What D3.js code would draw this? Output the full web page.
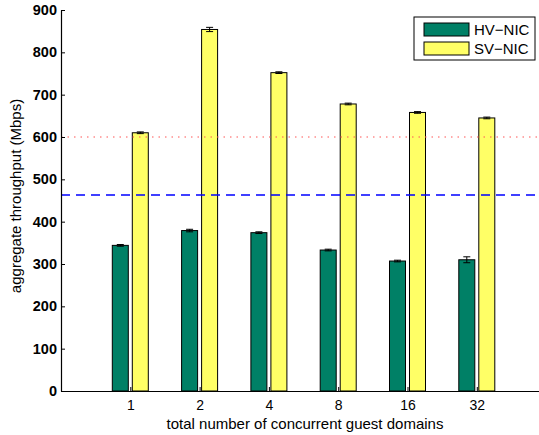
<!DOCTYPE html>
<html>
<head>
<meta charset="utf-8">
<script src="https://cdn.jsdelivr.net/npm/d3@7"></script>
<style>
  html, body { margin: 0; padding: 0; background: #fff; }
  svg { display: block; font-family: "Liberation Sans", Arial, sans-serif; }
</style>
</head>
<body>
<svg id="chart" width="539" height="435"></svg>
<script>
// Guest-domain counts on the x axis
const categories = ["1", "2", "4", "8", "16", "32"];
// Aggregate throughput (Mbps) per configuration
const hvNic = [344, 379, 374, 333, 307, 310];
const svNic = [610, 854, 752, 678, 658, 645];
// Error-bar half-widths (Mbps)
const hvErr = [2, 3, 2, 2, 2, 7];
const svErr = [2, 5, 2, 2, 2, 2];
// Reference levels drawn across the plot
const refDotted = 600;
const refDashed = 463;
const yTicks = [0, 100, 200, 300, 400, 500, 600, 700, 800, 900];
const seriesNames = ["HV\u2212NIC", "SV\u2212NIC"];
const seriesColors = ["#008066", "#ffff66"];

const svg = d3.select("#chart");
const plotLeft = 61, plotBottom = 391, plotTop = 10;

// Positions 0..7 along x; the plot runs past the right edge of the page
const x = d3.scaleLinear().domain([0, 7]).range([plotLeft, plotLeft + 7 * 69.3]);
const y = d3.scaleLinear().domain([0, 900]).range([plotBottom, plotTop]);

const barW = 16, off = 10;

// Bars
[hvNic, svNic].forEach((vals, s) => {
  svg.append("g").selectAll("rect").data(vals).join("rect")
    .attr("x", (d, i) => x(i + 1) + (s === 0 ? -off : off) - barW / 2)
    .attr("y", d => y(d))
    .attr("width", barW)
    .attr("height", d => y(0) - y(d))
    .attr("fill", seriesColors[s])
    .attr("stroke", "#000")
    .attr("stroke-width", 1);
});

// Error bars
[[hvNic, hvErr, -off], [svNic, svErr, off]].forEach(([vals, errs, dx]) => {
  const g = svg.append("g").attr("stroke", "#000").attr("stroke-width", 1);
  vals.forEach((v, i) => {
    const cx = x(i + 1) + dx;
    const e = errs[i];
    g.append("line").attr("x1", cx).attr("x2", cx).attr("y1", y(v - e)).attr("y2", y(v + e));
    g.append("line").attr("x1", cx - 3.5).attr("x2", cx + 3.5).attr("y1", y(v - e)).attr("y2", y(v - e));
    g.append("line").attr("x1", cx - 3.5).attr("x2", cx + 3.5).attr("y1", y(v + e)).attr("y2", y(v + e));
  });
});

// Reference lines
svg.append("line")
  .attr("x1", plotLeft).attr("x2", 539)
  .attr("y1", y(refDotted)).attr("y2", y(refDotted))
  .attr("stroke", "#ff5555").attr("stroke-width", 1.2)
  .attr("stroke-dasharray", "1.5,5");
svg.append("line")
  .attr("x1", plotLeft).attr("x2", 539)
  .attr("y1", y(refDashed)).attr("y2", y(refDashed))
  .attr("stroke", "#0000ff").attr("stroke-width", 1.3)
  .attr("stroke-dasharray", "9,6");

// Y axis
const yAxis = d3.axisLeft(y).tickValues(yTicks).tickSizeInner(-4).tickSizeOuter(0).tickPadding(4);
const gy = svg.append("g").attr("transform", `translate(${plotLeft},0)`).call(yAxis);
gy.select(".domain").attr("stroke", "#000").attr("stroke-width", 1.2);
gy.selectAll(".tick line").attr("stroke", "#000");
gy.selectAll(".tick text")
  .attr("font-family", "Liberation Sans, Arial, sans-serif")
  .attr("font-size", 14.5).attr("font-weight", "bold").attr("fill", "#000");

// X axis
const xAxis = d3.axisBottom(x).tickValues(d3.range(1, 7))
  .tickFormat(d => categories[d - 1]).tickSizeInner(-4).tickSizeOuter(0).tickPadding(9);
const gx = svg.append("g").attr("transform", `translate(0,${plotBottom})`).call(xAxis);
gx.select(".domain").attr("stroke", "#000").attr("stroke-width", 1.2);
gx.selectAll(".tick line").attr("stroke", "#000");
gx.selectAll(".tick text")
  .attr("font-family", "Liberation Sans, Arial, sans-serif")
  .attr("font-size", 14).attr("fill", "#000");

// Axis titles
svg.append("text")
  .attr("x", 305).attr("y", 429)
  .attr("text-anchor", "middle").attr("font-size", 15)
  .text("total number of concurrent guest domains");
svg.append("text")
  .attr("transform", `translate(21,196) rotate(-90)`)
  .attr("text-anchor", "middle").attr("font-size", 15)
  .text("aggregate throughput (Mbps)");

// Legend
const lg = svg.append("g").attr("transform", "translate(414,17)");
lg.append("rect").attr("width", 121).attr("height", 43)
  .attr("fill", "#fff").attr("stroke", "#000").attr("stroke-width", 1);
seriesNames.forEach((n, i) => {
  lg.append("rect").attr("x", 10).attr("y", 6 + i * 19).attr("width", 45).attr("height", 13)
    .attr("fill", seriesColors[i]).attr("stroke", "#000").attr("stroke-width", 1);
  lg.append("text").attr("x", 60).attr("y", 18 + i * 19)
    .attr("font-size", 15).text(n);
});
</script>
</body>
</html>
